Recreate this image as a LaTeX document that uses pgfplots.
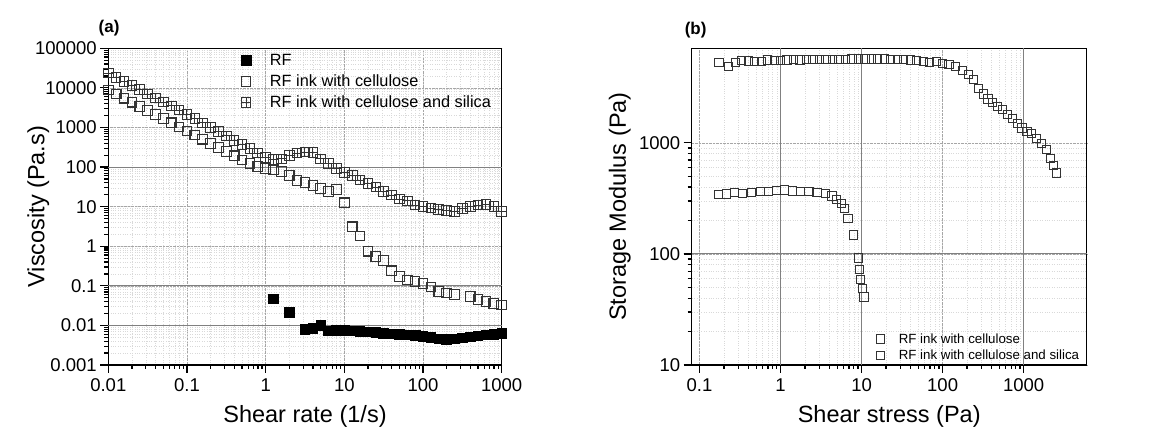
\documentclass[border=0pt]{standalone}
\usepackage{fontspec}
\setmainfont{Liberation Sans}
\usepackage{pgfplots}
\pgfplotsset{compat=1.18}
\usepackage{pgfplotstable}

\pgfdeclareplotmark{sqplus}{%
  \pgfpathrectangle{\pgfqpoint{-\pgfplotmarksize}{-\pgfplotmarksize}}{\pgfqpoint{2\pgfplotmarksize}{2\pgfplotmarksize}}%
  \pgfpathmoveto{\pgfqpoint{-\pgfplotmarksize}{0pt}}\pgfpathlineto{\pgfqpoint{\pgfplotmarksize}{0pt}}%
  \pgfpathmoveto{\pgfqpoint{0pt}{-\pgfplotmarksize}}\pgfpathlineto{\pgfqpoint{0pt}{\pgfplotmarksize}}%
  \pgfusepathqstroke}

\pgfplotstableread{
x y
1.259 0.047
1.995 0.021
3.162 0.0079
3.981 0.0083
5.012 0.0100
6.310 0.0073
7.943 0.0076
10 0.0075
12.59 0.0073
15.85 0.0071
19.95 0.0068
25.12 0.0066
31.62 0.0063
39.81 0.0061
50.12 0.0059
63.10 0.0057
79.43 0.0055
100 0.0053
125.9 0.0049
158.5 0.0046
199.5 0.0045
251.2 0.0046
316.2 0.0048
398.1 0.0051
501.2 0.0054
631.0 0.0057
794.3 0.0060
1000 0.0063
}\rfdata

\pgfplotstableread{
x y
0.01 8900
0.01259 7000
0.01585 5500
0.01995 4350
0.02512 3420
0.03162 2700
0.03981 2120
0.05012 1670
0.06310 1310
0.07943 1030
0.1 815
0.1259 640
0.1585 505
0.1995 395
0.2512 312
0.3162 245
0.3981 193
0.5012 152
0.6310 122
0.7943 102
1 92
1.259 85
1.585 78
1.995 62
2.512 46
3.162 41
3.981 34
5.012 29
6.310 24
7.943 27
10 12.5
12.59 3.1
15.85 1.8
19.95 0.75
25.12 0.55
31.62 0.44
39.81 0.24
50.12 0.17
63.10 0.14
79.43 0.128
100 0.115
125.9 0.093
158.5 0.072
199.5 0.066
251.2 0.060
398.1 0.054
501.2 0.045
631.0 0.040
794.3 0.036
1000 0.033
}\celldata

\pgfplotstableread{
x y
0.01 23500
0.01259 18500
0.01585 14500
0.01995 11500
0.02512 9000
0.03162 7000
0.03981 5500
0.05012 4400
0.06310 3500
0.07943 2750
0.1 2150
0.1259 1670
0.1585 1300
0.1995 1010
0.2512 790
0.3162 610
0.3981 475
0.5012 370
0.6310 290
0.7943 225
1 175
1.259 155
1.585 160
1.995 195
2.512 225
3.162 240
3.981 235
5.012 160
6.310 122
7.943 93
10 72
12.59 62
15.85 47
19.95 38
25.12 31
31.62 24
39.81 19.5
50.12 15.5
63.10 14
79.43 11
100 10
125.9 9.2
158.5 8.4
199.5 7.9
251.2 7.5
316.2 9.1
398.1 10
501.2 11
631.0 11.5
794.3 10
1000 7.6
}\silicadata

\pgfplotstableread{
x y
0.170 340
0.215 347
0.270 355
0.340 350
0.440 357
0.560 363
0.710 365
0.890 370
1.12 377
1.41 368
1.78 365
2.24 362
2.82 360
3.55 350
4.30 332
4.90 310
5.60 285
6.20 258
6.80 210
8.00 148
9.10 92
9.50 72
9.80 59
10.2 49
10.7 41
}\gcell

\pgfplotstableread{
x y
0.174 5330
0.229 4900
0.275 5270
0.331 5480
0.398 5450
0.479 5380
0.575 5420
0.692 5560
0.832 5550
1.00 5520
1.20 5580
1.45 5600
1.74 5560
2.09 5600
2.51 5620
3.02 5600
3.63 5640
4.37 5660
5.25 5650
6.31 5660
7.59 5680
9.12 5680
11.0 5690
13.2 5680
15.8 5690
19.1 5680
22.9 5670
27.5 5660
33.1 5640
39.8 5580
47.9 5500
57.5 5380
69.2 5270
83.2 5400
100 5200
120 5050
145 4880
174 4500
209 4100
240 3700
275 3100
316 2750
363 2480
417 2300
479 2140
550 1980
631 1800
724 1650
832 1490
955 1360
1100 1260
1260 1220
1450 1100
1660 990
1900 870
2140 720
2340 630
2570 535
}\gsilica

\begin{document}
\begin{tikzpicture}
\useasboundingbox (0pt,0pt) rectangle (1149pt,433pt);
\begin{axis}[
  scale only axis, xmode=log, ymode=log,
  axis line style={line width=1.5pt},
  tick align=outside, xtick pos=bottom, ytick pos=left,
  major tick length=8pt, minor tick length=4pt,
  tick style={line width=1.2pt, black},
  grid=both,
  major grid style={densely dotted, gray!70, line width=0.6pt},
  minor grid style={dotted, gray!30, line width=0.5pt},
  tick label style={font=\fontsize{18.5}{19}\selectfont},
  xticklabel style={yshift=-2pt},
  label style={font=\fontsize{23.5}{24}\selectfont},
  legend cell align=left,
  at={(108.3pt,68pt)}, anchor=south west, width=393.4pt, height=316.7pt,
  xmin=0.01, xmax=1000, ymin=0.001, ymax=100000,
  xtick={0.01,0.1,1,10,100,1000}, xticklabels={0.01,0.1,1,10,100,1000},
  ytick={0.001,0.01,0.1,1,10,100,1000,10000,100000},
  yticklabels={0.001,0.01,0.1,1,10,100,1000,10000,100000},
  extra y ticks={0.01,0.1,100},
  extra y tick labels={{},{},{}},
  extra y tick style={major grid style={solid, gray, line width=0.9pt}},
  xlabel={Shear rate (1/s)}, ylabel={Viscosity (Pa.s)},
  xlabel style={at={(axis description cs:0.5,-0.163)}, anchor=center},
  ylabel style={at={(axis description cs:-0.178,0.5)}, anchor=center},
  after end axis/.code={\node[font=\fontsize{17}{17}\selectfont\bfseries, anchor=center] at (rel axis cs:0.002,1.064) {(a)};},
  legend style={at={(0.33,0.995)}, anchor=north west, draw=none, fill=none,
    nodes={font=\fontsize{16.3}{16.3}\selectfont}, row sep=4pt, column sep=17pt},
]
\addplot[only marks, mark=square*, mark size=4.8pt, mark options={draw=black, fill=black, line width=0.8pt}] table {\rfdata};
\addlegendentry{RF}
\addplot[only marks, mark=square, mark size=4.8pt, mark options={draw=black!80, line width=1.1pt}] table {\celldata};
\addlegendentry{RF ink with cellulose}
\addplot[only marks, mark=sqplus, mark size=4.8pt, mark options={draw=black!80, line width=1.0pt}] table {\silicadata};
\addlegendentry{RF ink with cellulose and silica}
\end{axis}

\begin{axis}[
  scale only axis, xmode=log, ymode=log,
  axis line style={line width=1.5pt},
  tick align=outside, xtick pos=bottom, ytick pos=left,
  major tick length=8pt, minor tick length=4pt,
  tick style={line width=1.2pt, black},
  grid=both,
  major grid style={densely dotted, gray!70, line width=0.6pt},
  minor grid style={dotted, gray!30, line width=0.5pt},
  tick label style={font=\fontsize{18.5}{19}\selectfont},
  xticklabel style={yshift=-2pt},
  label style={font=\fontsize{23.5}{24}\selectfont},
  legend cell align=left,
  at={(691.7pt,68pt)}, anchor=south west, width=395pt, height=316.7pt,
  xmin=0.08, xmax=6000, ymin=10, ymax=7100,
  xtick={0.1,1,10,100,1000}, xticklabels={0.1,1,10,100,1000},
  ytick={10,100,1000}, yticklabels={10,100,1000},
  extra x ticks={1,10,1000},
  extra x tick labels={{},{},{}},
  extra x tick style={major grid style={solid, gray, line width=0.9pt}},
  extra y ticks={100},
  extra y tick labels={{}},
  extra y tick style={major grid style={solid, gray, line width=0.9pt}},
  xlabel={Shear stress (Pa)}, ylabel={Storage Modulus (Pa)},
  xlabel style={at={(axis description cs:0.5,-0.163)}, anchor=center},
  ylabel style={at={(axis description cs:-0.182,0.5)}, anchor=center},
  after end axis/.code={\node[font=\fontsize{17}{17}\selectfont\bfseries, anchor=center] at (rel axis cs:0.01,1.058) {(b)};},
  legend style={at={(0.46,0.0)}, anchor=south west, draw=none, fill=none,
    nodes={font=\fontsize{13.3}{13.3}\selectfont}, row sep=1pt, column sep=12pt},
]
\addplot[only marks, mark=square, mark size=4.1pt, mark options={draw=black!80, line width=1.0pt}] table {\gcell};
\addlegendentry{RF ink with cellulose}
\addplot[only marks, mark=square, mark size=4.1pt, mark options={draw=black!80, line width=1.0pt}] table {\gsilica};
\addlegendentry{RF ink with cellulose and silica}
\end{axis}
\end{tikzpicture}
\end{document}
